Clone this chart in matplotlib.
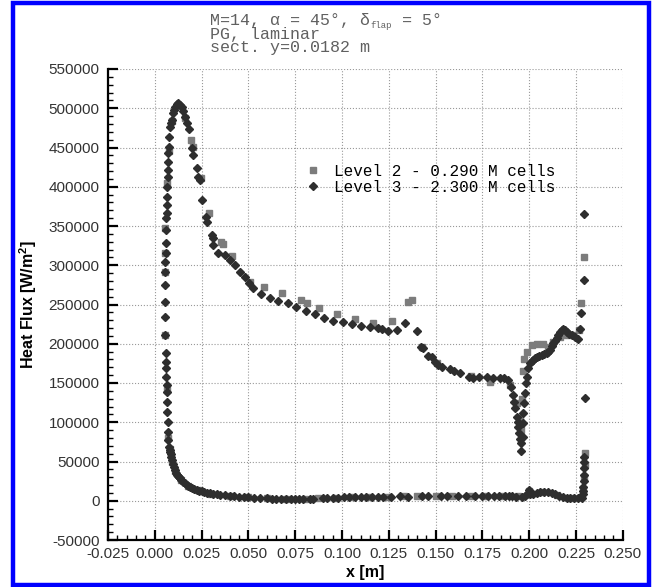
import matplotlib
matplotlib.use("Agg")
import matplotlib.pyplot as plt
from matplotlib.ticker import MultipleLocator, FormatStrFormatter
from matplotlib.patches import Rectangle
from matplotlib.lines import Line2D

# ---------------- data ----------------
title_line1_parts = ["M=14, \u03b1 = 45\u00b0, \u03b4", "flap", " = 5\u00b0"]
title_lines_rest = ["PG, laminar", "sect. y=0.0182 m"]
legend_labels = ["Level 2 - 0.290 M cells", "Level 3 - 2.300 M cells"]
x_label = "x [m]"
y_label = "Heat Flux [W/m$^\\mathbf{2}$]"

# Level 3 (diamonds) - windward branch
lvl3_upper = [
    (0.0072, 77400), (0.0072, 88000), (0.0069, 100700), (0.0067, 113400), (0.0065, 126000),
    (0.0063, 139000), (0.0063, 147500), (0.0061, 158000), (0.0060, 168700), (0.0060, 177100),
    (0.0060, 187800), (0.0054, 211100), (0.0054, 234500), (0.0054, 253600), (0.0054, 274800),
    (0.0054, 291800), (0.0056, 304000), (0.0058, 315200), (0.0058, 328000), (0.0060, 344900),
    (0.0060, 359800), (0.0063, 366200), (0.0063, 376800), (0.0063, 387300), (0.0066, 400000),
    (0.0069, 412800), (0.0069, 421300), (0.0072, 432000), (0.0072, 442600), (0.0076, 451000),
    (0.0078, 463800), (0.0081, 476500), (0.0086, 481000), (0.0090, 485000), (0.0096, 493600),
    (0.0102, 498000), (0.0108, 502000), (0.0117, 505000), (0.0126, 506300), (0.0135, 504500),
    (0.0144, 502000), (0.0152, 496000), (0.0161, 489300), (0.0172, 481000), (0.0184, 473100),
    (0.0197, 449000), (0.0206, 440400), (0.0224, 423500), (0.0232, 412800), (0.0241, 408600),
    (0.0251, 383100), (0.0276, 362000), (0.0281, 355500), (0.0305, 338000), (0.0309, 334300),
    (0.0313, 325800), (0.0339, 315200), (0.0375, 313000), (0.0402, 306700), (0.0428, 300300),
    (0.0455, 291800), (0.0482, 285400), (0.0505, 277000), (0.0526, 270600), (0.0566, 263000),
    (0.0615, 258700), (0.0660, 254800), (0.0710, 251500), (0.0754, 247200), (0.0808, 242100),
    (0.0856, 237900), (0.0904, 233200), (0.0954, 229400), (0.1004, 228100), (0.1052, 225200),
    (0.1100, 223000), (0.1150, 221700), (0.1194, 219700), (0.1212, 218400), (0.1247, 216700),
    (0.1292, 217500), (0.1337, 226000), (0.1399, 216700), (0.1420, 196300), (0.1431, 194200),
    (0.1461, 184400), (0.1479, 182700), (0.1497, 177100), (0.1515, 172900), (0.1532, 170800),
    (0.1577, 167400), (0.1598, 165700), (0.1630, 163200), (0.1680, 158100), (0.1701, 156000),
    (0.1733, 157200), (0.1773, 158100), (0.1808, 156800), (0.1844, 156800), (0.1865, 156000),
    (0.1888, 153800), (0.1901, 145300), (0.1912, 134700), (0.1919, 126200), (0.1924, 117800),
    (0.1933, 107100), (0.1939, 100700), (0.1942, 94300), (0.1947, 85900), (0.1951, 78300),
    (0.1955, 73200), (0.1958, 63800), (0.1965, 81600), (0.1968, 98600), (0.1968, 111400),
    (0.1972, 124100), (0.1978, 136900), (0.1983, 149600), (0.1987, 158100), (0.1995, 168700),
    (0.2004, 175100), (0.2013, 177500), (0.2022, 179300), (0.2031, 181500), (0.2040, 183500),
    (0.2054, 184800), (0.2067, 185700), (0.2080, 186800), (0.2093, 187800), (0.2102, 190000),
    (0.2111, 192000), (0.2120, 196500), (0.2129, 200600), (0.2138, 204000), (0.2147, 206900),
    (0.2156, 211000), (0.2165, 215400), (0.2174, 217500), (0.2182, 218400), (0.2191, 217000),
    (0.2200, 215400), (0.2213, 213000), (0.2227, 211100), (0.2245, 208000), (0.2262, 205700),
    (0.2271, 218400), (0.2277, 238800), (0.2291, 281200), (0.2294, 365300), (0.2298, 130500),
]

# Level 3 (diamonds) - leeward branch
lvl3_lower = [
    (0.0078, 68900), (0.0080, 65000), (0.0082, 62000), (0.0084, 59000), (0.0086, 56000),
    (0.0090, 51900), (0.0095, 46500), (0.0100, 43000), (0.0108, 39200), (0.0115, 35000),
    (0.0120, 33000), (0.0125, 31500), (0.0130, 30000), (0.0135, 28600), (0.0142, 26500),
    (0.0150, 24500), (0.0160, 22000), (0.0170, 20100), (0.0180, 18500), (0.0190, 17000),
    (0.0200, 16000), (0.0210, 15000), (0.0224, 13700), (0.0237, 12800), (0.0250, 12000),
    (0.0265, 11000), (0.0280, 10200), (0.0296, 9400), (0.0313, 8600), (0.0330, 8100),
    (0.0350, 7600), (0.0375, 6800), (0.0402, 6000), (0.0425, 5600), (0.0450, 5200),
    (0.0475, 4800), (0.0500, 4500), (0.0530, 4000), (0.0562, 3500), (0.0600, 3000),
    (0.0625, 2800), (0.0650, 2600), (0.0675, 2400), (0.0700, 2200), (0.0725, 2100),
    (0.0750, 2000), (0.0770, 2100), (0.0790, 2200), (0.0830, 2500), (0.0845, 2800),
    (0.0900, 3300), (0.0920, 3500), (0.0950, 3600), (0.0980, 4000), (0.1010, 4200),
    (0.1040, 4300), (0.1070, 4500), (0.1100, 4600), (0.1130, 4600), (0.1160, 4800),
    (0.1190, 5000), (0.1220, 5200), (0.1260, 5200), (0.1310, 5500), (0.1350, 5400),
    (0.1430, 5600), (0.1460, 5800), (0.1530, 6000), (0.1560, 6000), (0.1620, 6200),
    (0.1660, 6400), (0.1710, 6200), (0.1750, 6300), (0.1780, 6000), (0.1810, 6200),
    (0.1840, 6000), (0.1870, 5800), (0.1890, 5600), (0.1910, 5500), (0.1930, 5400),
    (0.1960, 5200), (0.1980, 6000), (0.1990, 9000), (0.2000, 14000), (0.2005, 9000),
    (0.2020, 8000), (0.2040, 10000), (0.2060, 11000), (0.2080, 11500), (0.2100, 11000),
    (0.2120, 10000), (0.2140, 8000), (0.2160, 6000), (0.2180, 4500), (0.2200, 3500),
    (0.2220, 3000), (0.2240, 3000), (0.2260, 3200), (0.2280, 4000), (0.2288, 8000),
    (0.2290, 12000), (0.2290, 18000), (0.2291, 25000), (0.2291, 33000), (0.2292, 42000),
    (0.2293, 50000), (0.2294, 56000),
]

# Level 2 (squares) - windward branch
lvl2_upper = [
    (0.0072, 80000), (0.0063, 141000), (0.0054, 211100), (0.0054, 291800), (0.0054, 316000),
    (0.0056, 347000), (0.0066, 405000), (0.0074, 445000), (0.0090, 484000), (0.0126, 503000),
    (0.0160, 487000), (0.0193, 459500), (0.0202, 451000), (0.0245, 410700), (0.0291, 366200),
    (0.0352, 330000), (0.0366, 327100), (0.0411, 312200), (0.0509, 279000), (0.0583, 271900),
    (0.0678, 264300), (0.0779, 255700), (0.0815, 252300), (0.0877, 245200), (0.0972, 237500),
    (0.1069, 231100), (0.1167, 226000), (0.1269, 229400), (0.1354, 253600), (0.1372, 255700),
    (0.1426, 196300), (0.1506, 175900), (0.1687, 158900), (0.1791, 151700), (0.1900, 148000),
    (0.1935, 125000), (0.1950, 105000), (0.1958, 90000), (0.1962, 130000), (0.1966, 165000),
    (0.1972, 180100), (0.1987, 189900), (0.2013, 198400), (0.2040, 199700), (0.2075, 199700),
    (0.2102, 196300), (0.2129, 202600), (0.2165, 208200), (0.2200, 211100), (0.2236, 211100),
    (0.2268, 217500), (0.2275, 252300), (0.2291, 311000),
]

# Level 2 (squares) - leeward branch
lvl2_lower = [
    (0.0080, 66000), (0.0092, 50000), (0.0110, 38000), (0.0140, 27000), (0.0180, 19000),
    (0.0230, 13500), (0.0300, 9200), (0.0400, 6200), (0.0500, 4700), (0.0600, 3300),
    (0.0700, 2500), (0.0800, 2600), (0.0870, 3000), (0.0960, 3800), (0.1050, 4400),
    (0.1140, 4800), (0.1240, 5300), (0.1330, 5600), (0.1400, 5700), (0.1500, 6000),
    (0.1590, 6200), (0.1690, 6400), (0.1770, 6200), (0.1860, 6000), (0.1940, 5500),
    (0.2000, 12000), (0.2070, 11000), (0.2150, 7500), (0.2230, 3200), (0.2290, 15000),
    (0.2295, 30000), (0.2296, 45000), (0.2298, 60400),
]

# ---------------- figure ----------------
plt.rcParams['font.family'] = ['Liberation Sans', 'DejaVu Sans']
plt.rcParams['mathtext.fontset'] = 'custom'
plt.rcParams['mathtext.rm'] = 'Liberation Sans'
plt.rcParams['mathtext.bf'] = 'Liberation Sans:bold'

W, H = 655, 587
fig = plt.figure(figsize=(W / 100, H / 100), dpi=100)
fig.patch.set_facecolor('white')

ax_l, ax_r, ax_t, ax_b = 108, 622.8, 69, 540
ax = fig.add_axes([ax_l / W, 1 - ax_b / H, (ax_r - ax_l) / W, (ax_b - ax_t) / H])

sq_col = '#7c7c7c'
di_col = '#2e2e2e'
sq_ms = 4.4
di_ms = 3.6

def unzip(pairs):
    return [p[0] for p in pairs], [p[1] for p in pairs]

x, y = unzip(lvl2_upper)
ax.plot(x, y, ls='none', marker='s', ms=sq_ms, color=sq_col, mec=sq_col, zorder=3)
x, y = unzip(lvl2_lower)
ax.plot(x, y, ls='none', marker='s', ms=sq_ms, color=sq_col, mec=sq_col, zorder=3)
x, y = unzip(lvl3_upper)
ax.plot(x, y, ls='none', marker='D', ms=di_ms, color=di_col, mec=di_col, zorder=4)
x, y = unzip(lvl3_lower)
ax.plot(x, y, ls='none', marker='D', ms=di_ms, color=di_col, mec=di_col, zorder=4)

ax.set_xlim(-0.025, 0.25)
ax.set_ylim(-50000, 550000)
ax.xaxis.set_major_locator(MultipleLocator(0.025))
ax.xaxis.set_minor_locator(MultipleLocator(0.005))
ax.yaxis.set_major_locator(MultipleLocator(50000))
ax.yaxis.set_minor_locator(MultipleLocator(10000))
ax.xaxis.set_major_formatter(FormatStrFormatter('%.3f'))
ax.yaxis.set_major_formatter(FormatStrFormatter('%d'))

for s in ['top', 'right']:
    ax.spines[s].set_visible(False)
for s in ['left', 'bottom']:
    ax.spines[s].set_linewidth(1.6)
    ax.spines[s].set_color('black')

ax.tick_params(which='major', direction='in', length=7, width=1.6, colors='black',
               labelsize=11, labelcolor='#333333', pad=6)
ax.tick_params(which='minor', direction='in', length=3.5, width=1.0, colors='black')
ax.tick_params(axis='x', which='major', pad=5)

ax.grid(which='major', linestyle=':', color='#999999', linewidth=0.8, zorder=0)
ax.set_axisbelow(True)

# legend
handles = [Line2D([], [], ls='none', marker='s', ms=sq_ms, color=sq_col),
           Line2D([], [], ls='none', marker='D', ms=di_ms, color=di_col)]
leg = ax.legend(handles, legend_labels, loc='upper left',
                bbox_to_anchor=(307 / W, 1 - 164 / H), bbox_transform=fig.transFigure,
                frameon=False, handlelength=0.8, handletextpad=0.9, labelspacing=0.05,
                borderpad=0, borderaxespad=0,
                prop={'family': 'Liberation Mono', 'size': 11.5})

# title block: monospace, so character advance = 0.6 em
t_fs = 12.0
t_sub = 6.5
t_col = '#606060'
x0 = 210
char_px = 0.6 * t_fs * 100 / 72
sub_px = 0.6 * t_sub * 100 / 72
base1 = 25
fig.text(x0 / W, 1 - base1 / H, title_line1_parts[0], ha='left', va='baseline',
         color=t_col, family='Liberation Mono', fontsize=t_fs)
xs = x0 + char_px * len(title_line1_parts[0]) + 0.5
fig.text(xs / W, 1 - (base1 + 2.5) / H, title_line1_parts[1], ha='left', va='baseline',
         color=t_col, family='Liberation Mono', fontsize=t_sub)
xs2 = xs + sub_px * len(title_line1_parts[1])
fig.text(xs2 / W, 1 - base1 / H, title_line1_parts[2], ha='left', va='baseline',
         color=t_col, family='Liberation Mono', fontsize=t_fs)
for txt, b in zip(title_lines_rest, [38.5, 52]):
    fig.text(x0 / W, 1 - b / H, txt, ha='left', va='baseline',
             color=t_col, family='Liberation Mono', fontsize=t_fs)

# axis labels
fig.text(28 / W, 1 - 304.5 / H, y_label, rotation=90, ha='center', va='center',
         fontsize=11.5, fontweight='bold', color='black')
fig.text(365 / W, 1 - 573 / H, x_label, ha='center', va='center',
         fontsize=11.5, fontweight='bold', color='black')

# blue frame
fig.patches.append(Rectangle((13 / W, 2 / H), (649 - 13) / W, (584 - 2) / H,
                             transform=fig.transFigure, fill=False,
                             edgecolor='#0000ff', linewidth=3.2, zorder=10))

fig.savefig('out.png', dpi=100, facecolor='white')
